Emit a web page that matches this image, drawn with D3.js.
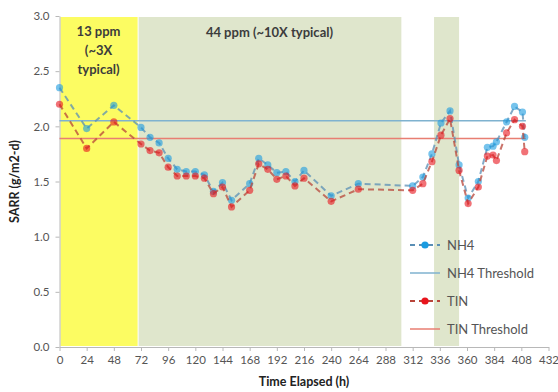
<!DOCTYPE html>
<html>
<head>
<meta charset="utf-8">
<script src="https://cdn.jsdelivr.net/npm/d3@7"></script>
<style>
  body { margin: 0; background: #fff; }
  text { font-family: Lato, "Open Sans", sans-serif; }
</style>
</head>
<body>
<div id="chart"></div>
<script>
// sample times (h) and areal removal rates
const times = [0,24,48,72,80,88,96,104,112,120,128,136,144,152,168,176,184,192,200,208,216,240,264,312,321,329,337,345,353,361,370,378,383,386,395,402,409,411];
const nh4 = [2.35,1.98,2.19,1.99,1.90,1.85,1.71,1.61,1.59,1.59,1.56,1.41,1.49,1.33,1.48,1.71,1.65,1.58,1.59,1.50,1.60,1.37,1.48,1.46,1.54,1.75,2.03,2.14,1.65,1.35,1.50,1.81,1.82,1.86,2.04,2.18,2.13,1.90];
const tin = [2.20,1.80,2.04,1.84,1.78,1.76,1.63,1.55,1.55,1.55,1.53,1.39,1.45,1.27,1.42,1.66,1.61,1.52,1.55,1.46,1.53,1.32,1.43,1.42,1.48,1.68,1.92,2.07,1.60,1.30,1.45,1.73,1.74,1.69,1.94,2.06,2.00,1.77];

// dosing periods
const bandStart = [0, 69, 330];
const bandEnd = [69, 302, 353];
const bandKind = ["low", "high", "high"];

const thresholdNames = ["NH4 Threshold", "TIN Threshold"];
const thresholdValues = [2.05, 1.89];
const thresholdEnd = 412;

const xTicks = d3.range(0, 433, 24);
const yTicks = [0, 0.5, 1.0, 1.5, 2.0, 2.5, 3.0];

const W = 558, H = 392;
const margin = {top: 16, right: 9.5, bottom: 45, left: 59.5};
const width = W - margin.left - margin.right,
    height = H - margin.top - margin.bottom;

const svg = d3.select("#chart").append("svg")
    .attr("width", W).attr("height", H);
const g = svg.append("g")
    .attr("transform", `translate(${margin.left}, ${margin.top})`);

const x = d3.scaleLinear().domain([0, 432]).range([0, width]);
const y = d3.scaleLinear().domain([0, 3]).range([height, 0]);

const bandColor = {low: "#fcfc62", high: "#dfe6cc"};

// background bands
g.selectAll("rect.band")
    .data(bandStart.map((s, i) => ({s: s, e: bandEnd[i], k: bandKind[i]})))
    .enter().append("rect")
    .attr("x", d => x(d.s) + 1)
    .attr("y", y(3) + 1)
    .attr("width", d => x(d.e) - x(d.s) - 1)
    .attr("height", y(0) - y(3) - 2)
    .attr("fill", d => bandColor[d.k]);

// band labels
const lbl = g.append("text")
    .attr("text-anchor", "middle")
    .attr("font-size", "13px")
    .attr("font-weight", "bold")
    .attr("fill", "#3c3c3c");
["13 ppm", "(~3X", "typical)"].forEach((t, i) => {
    lbl.append("tspan")
        .attr("x", x((bandStart[0] + bandEnd[0]) / 2))
        .attr("y", 20 + i * 19)
        .text(t);
});
g.append("text")
    .attr("x", x((bandStart[1] + bandEnd[1]) / 2))
    .attr("y", 21)
    .attr("text-anchor", "middle")
    .attr("font-size", "13px")
    .attr("font-weight", "bold")
    .attr("fill", "#3c3c3c")
    .text("44 ppm (~10X typical)");

// axes
const xAxis = g.append("g")
    .attr("transform", `translate(0, ${height})`)
    .call(d3.axisBottom(x).tickValues(xTicks).tickSize(4).tickPadding(5).tickSizeOuter(0));
const yAxis = g.append("g")
    .call(d3.axisLeft(y).tickValues(yTicks).tickFormat(d3.format(".1f")).tickSize(4).tickPadding(6).tickSizeOuter(0));
[xAxis, yAxis].forEach(a => {
    a.selectAll("path, line").attr("stroke", "#b8b8b8");
    a.selectAll("text").attr("font-size", "11.5px").attr("fill", "#555")
        .style("font-family", "Lato, 'Open Sans', sans-serif");
});

// threshold lines
const thrColor = ["#7fb2cf", "#e87e72"];
g.selectAll("line.thr")
    .data(thresholdValues)
    .enter().append("line")
    .attr("x1", x(0)).attr("x2", x(thresholdEnd))
    .attr("y1", d => y(d)).attr("y2", d => y(d))
    .attr("stroke", (d, i) => thrColor[i])
    .attr("stroke-width", 1.5);

// data series
const series = [
    {name: "NH4", values: nh4, line: "#5a8fb5", dot: "#1a9be0"},
    {name: "TIN", values: tin, line: "#b8453a", dot: "#e8141c"}
];
const line = d3.line()
    .x((d, i) => x(times[i]))
    .y(d => y(d));

series.forEach(s => {
    g.append("path")
        .datum(s.values)
        .attr("d", line)
        .attr("fill", "none")
        .attr("stroke", s.line)
        .attr("stroke-opacity", 0.75)
        .attr("stroke-width", 2)
        .attr("stroke-dasharray", "6,4");
    g.selectAll(null)
        .data(s.values)
        .enter().append("circle")
        .attr("cx", (d, i) => x(times[i]))
        .attr("cy", d => y(d))
        .attr("r", 3.6)
        .attr("fill", s.dot)
        .attr("fill-opacity", 0.6);
});

// legend
const legend = g.append("g").attr("transform", `translate(${410 - margin.left}, 0)`);
const legItems = [
    {label: "NH4", type: "series", s: series[0]},
    {label: thresholdNames[0], type: "thr", c: thrColor[0]},
    {label: "TIN", type: "series", s: series[1]},
    {label: thresholdNames[1], type: "thr", c: thrColor[1]}
];
legItems.forEach((it, i) => {
    const yy = 245 - margin.top + i * 28;
    if (it.type === "series") {
        legend.append("line")
            .attr("x1", 0).attr("x2", 30).attr("y1", yy).attr("y2", yy)
            .attr("stroke", it.s.line).attr("stroke-width", 2)
            .attr("stroke-dasharray", "5,4");
        legend.append("circle")
            .attr("cx", 15).attr("cy", yy).attr("r", 3.6)
            .attr("fill", it.s.dot);
    } else {
        legend.append("line")
            .attr("x1", 0).attr("x2", 30).attr("y1", yy).attr("y2", yy)
            .attr("stroke", it.c).attr("stroke-width", 1.5);
    }
    legend.append("text")
        .attr("x", 37).attr("y", yy + 4.5)
        .attr("font-size", "13px")
        .attr("fill", "#555")
        .text(it.label);
});

// axis titles
svg.append("text")
    .attr("x", margin.left + width / 2)
    .attr("y", 386)
    .attr("text-anchor", "middle")
    .attr("font-size", "12.5px")
    .attr("font-weight", "bold")
    .attr("fill", "#222")
    .text("Time Elapsed (h)");
svg.append("text")
    .attr("transform", `translate(19, ${margin.top + height / 2}) rotate(-90)`)
    .attr("text-anchor", "middle")
    .attr("font-size", "12.5px")
    .attr("font-weight", "bold")
    .attr("fill", "#222")
    .text("SARR (g/m2-d)");
</script>
</body>
</html>
